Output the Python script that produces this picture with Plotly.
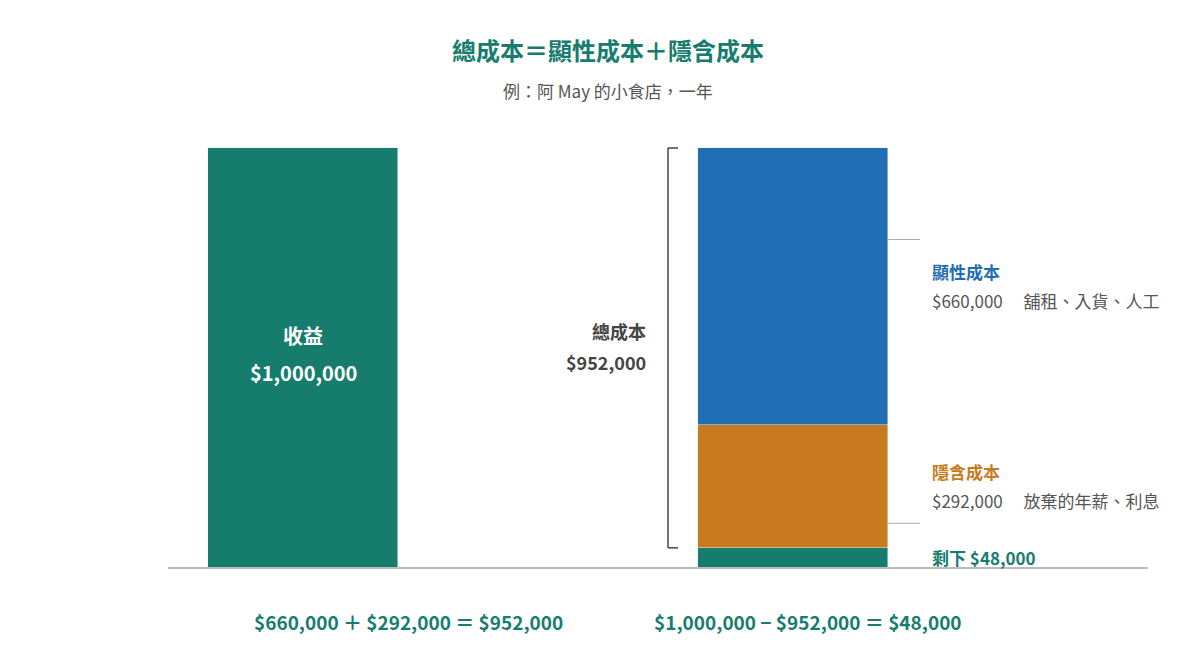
import plotly.graph_objects as go

W, H = 1200, 660
FONT = "Noto Sans CJK TC"
TEAL, BLUE, ORANGE, GREY = "#167d6e", "#1f6db3", "#c77a20", "#555555"

# data
revenue = 1000000
explicit_cost = 660000
implicit_cost = 292000
remaining = revenue - explicit_cost - implicit_cost
bar_x = [295, 785]

fig = go.Figure()
fig.add_trace(go.Bar(x=[bar_x[0]], y=[revenue], width=190, marker_color=TEAL))
fig.add_trace(go.Bar(x=[bar_x[1]], y=[remaining], width=190, marker_color=TEAL))
fig.add_trace(go.Bar(x=[bar_x[1]], y=[implicit_cost], width=190, marker_color=ORANGE))
fig.add_trace(go.Bar(x=[bar_x[1]], y=[explicit_cost], width=190, marker_color=BLUE))

# 420 px per 1,000,000; baseline at pixel 560
per_px = revenue / 420
fig.update_layout(
    barmode="stack", bargap=0, showlegend=False,
    width=W, height=H, margin=dict(l=0, r=0, t=0, b=0),
    plot_bgcolor="white", paper_bgcolor="white",
    font=dict(family=FONT),
    xaxis=dict(range=[0, W], visible=False, fixedrange=True),
    yaxis=dict(range=[-(H - 560) * per_px, 560 * per_px], visible=False, fixedrange=True),
)

def px(x, y):
    return x / W, 1 - y / H

def note(x, y, text, color, size=18, bold=False, anchor="center"):
    xx, yy = px(x, y)
    fig.add_annotation(x=xx, y=yy, xref="paper", yref="paper", text=f"<b>{text}</b>" if bold else text,
                       showarrow=False, xanchor=anchor, yanchor="middle",
                       font=dict(size=size, color=color, family=FONT))

# baseline
fig.add_shape(type="line", x0=160, x1=1140, y0=0, y1=0, xref="x", yref="y",
              line=dict(color="#bbbbbb", width=2))
# bracket for total cost
lo, hi = remaining, revenue
for seg in [(660, 660, lo, hi), (660, 670, lo, lo), (660, 670, hi, hi)]:
    fig.add_shape(type="line", x0=seg[0], x1=seg[1], y0=seg[2], y1=seg[3], xref="x", yref="y",
                  line=dict(color="#444444", width=1.5))
# leader lines
for yv in [remaining + implicit_cost + explicit_cost * 0.67, remaining + implicit_cost * 0.2]:
    fig.add_shape(type="line", x0=880, x1=912, y0=yv, y1=yv, xref="x", yref="y",
                  line=dict(color="#aaaaaa", width=1))

note(600, 42, "總成本＝顯性成本＋隱含成本", TEAL, 24, True)
note(600, 82, "例：阿 May 的小食店，一年", GREY, 17)
note(295, 327, "收益", "white", 20, True)
note(295, 365, f"${revenue:,}", "white", 20, True)
note(640, 323, "總成本", "#444444", 18, True, "right")
note(640, 354, f"${explicit_cost + implicit_cost:,}", "#444444", 18, True, "right")
note(922, 263, "顯性成本", BLUE, 17, True, "left")
note(922, 292, f"${explicit_cost:,}　 舖租、入貨、人工", GREY, 17, False, "left")
note(922, 463, "隱含成本", ORANGE, 17, True, "left")
note(922, 492, f"${implicit_cost:,}　 放棄的年薪、利息", GREY, 17, False, "left")
note(922, 549, f"剩下 ${remaining:,}", TEAL, 17, True, "left")
note(400, 613, f"${explicit_cost:,} ＋ ${implicit_cost:,} ＝ ${explicit_cost + implicit_cost:,}", TEAL, 19, True)
note(800, 613, f"${revenue:,} − ${explicit_cost + implicit_cost:,} ＝ ${remaining:,}", TEAL, 19, True)

fig.write_html("out.html")
